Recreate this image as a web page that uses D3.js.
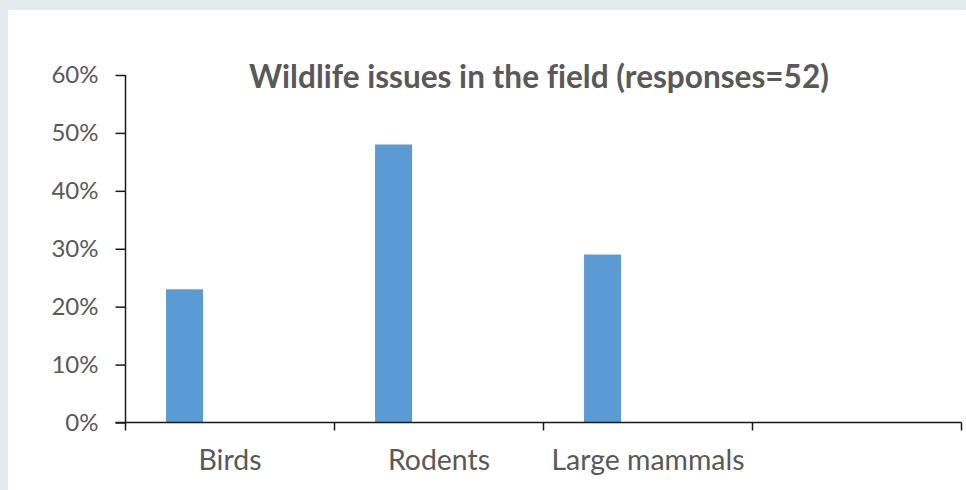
<!DOCTYPE html>
<html>
<head>
<meta charset="utf-8">
<script src="https://cdn.jsdelivr.net/npm/d3@7"></script>
<style>
  html, body { margin: 0; padding: 0; background: #e3ebee; }
  svg { display: block; }
  text { font-variant-ligatures: none; }
</style>
</head>
<body>
<svg id="chart" width="966" height="490"></svg>
<script>
// Chart data
const categories = ["Birds", "Rodents", "Large mammals", ""];
const shares = [0.23, 0.48, 0.29];
const yTicks = [0, 0.1, 0.2, 0.3, 0.4, 0.5, 0.6];
const title = "Wildlife issues in the field (responses=52)";

const svg = d3.select("#chart");
const W = 966, H = 490;
const margin = { left: 125.5, right: 4.5, top: 75, bottom: 67.5 };
const font = "Lato, 'Open Sans', sans-serif";
const textColor = "#595959";
const axisColor = "#1a1a1a";

// Scale a text element's font so its rendered width equals `width`
function fitWidth(sel, width) {
  sel.each(function () {
    const base = parseFloat(getComputedStyle(this).fontSize);
    const w = this.getComputedTextLength();
    if (w > 0) d3.select(this).style("font-size", (base * width / w).toFixed(2) + "px");
  });
}

// White chart panel
svg.append("rect")
  .attr("x", 8).attr("y", 10)
  .attr("width", W - 8).attr("height", H - 10)
  .attr("fill", "#ffffff");

const x = d3.scaleBand()
  .domain(categories)
  .range([margin.left, W - margin.right])
  .padding(0);

const y = d3.scaleLinear()
  .domain([0, 0.6])
  .range([H - margin.bottom, margin.top]);

const bw = x.bandwidth();

// Bars (first series sits toward the left of each category slot)
svg.append("g")
  .selectAll("rect")
  .data(shares)
  .join("rect")
  .attr("x", (d, i) => x(categories[i]) + bw * 0.194)
  .attr("width", bw * 0.177)
  .attr("y", d => y(d))
  .attr("height", d => y(0) - y(d))
  .attr("fill", "#5b9bd5");

// Y axis
const yAxis = svg.append("g")
  .attr("transform", `translate(${margin.left},0)`)
  .call(d3.axisLeft(y).tickValues(yTicks).tickFormat(d3.format(".0%")).tickSize(10).tickPadding(17));
yAxis.select(".domain").attr("stroke", axisColor).attr("stroke-width", 1.5).attr("d", `M0,${y(0.6)}H0V${y(0)}`);
yAxis.selectAll(".tick line").attr("stroke", axisColor).attr("stroke-width", 1.5);
yAxis.selectAll(".tick text")
  .attr("fill", textColor)
  .style("font-family", font)
  .style("font-size", "24px");

// X axis: ticks between category slots, labels centred in each slot
const xAxis = svg.append("g")
  .attr("transform", `translate(0,${y(0)})`);
xAxis.append("line")
  .attr("x1", margin.left - 10).attr("x2", W - margin.right)
  .attr("stroke", axisColor).attr("stroke-width", 1.5);
const boundaries = categories.map(c => x(c)).concat([x(categories[categories.length - 1]) + bw]);
xAxis.selectAll("line.tick")
  .data(boundaries)
  .join("line")
  .attr("class", "tick")
  .attr("x1", d => d).attr("x2", d => d)
  .attr("y1", 0).attr("y2", 8)
  .attr("stroke", axisColor).attr("stroke-width", 1.5);
const xLabels = xAxis.selectAll("text")
  .data(categories.filter(c => c !== ""))
  .join("text")
  .attr("x", d => x(d) + bw / 2)
  .attr("y", 47.5)
  .attr("text-anchor", "middle")
  .attr("fill", textColor)
  .style("font-family", font)
  .style("font-size", "22px")
  .text(d => d);
// Size category labels from the longest one
const longest = xLabels.filter(d => d === "Large mammals");
fitWidth(longest, 193);
xLabels.style("font-size", longest.style("font-size"));

// Title
const titleText = svg.append("text")
  .attr("x", 539)
  .attr("y", 88)
  .attr("text-anchor", "middle")
  .attr("fill", textColor)
  .style("font-family", font)
  .style("font-weight", "bold")
  .style("font-size", "25px")
  .text(title);
fitWidth(titleText, 580);
</script>
</body>
</html>
